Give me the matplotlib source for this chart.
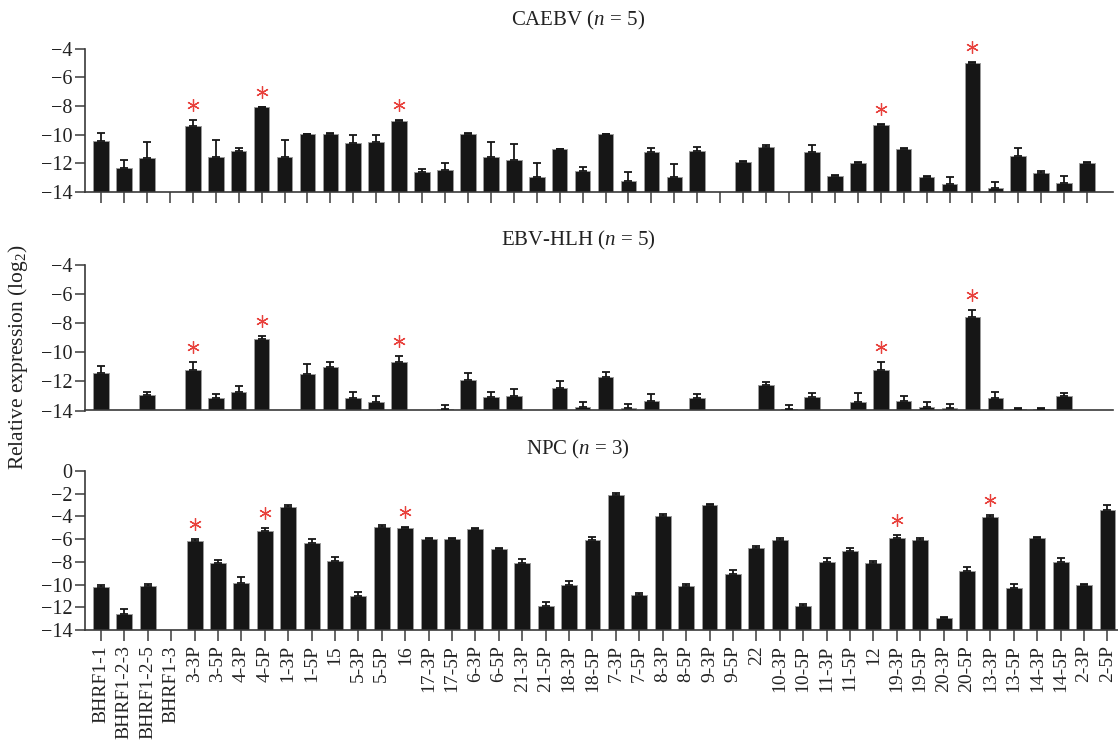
import numpy as np
import matplotlib
matplotlib.use("Agg")
import matplotlib.pyplot as plt
from matplotlib.transforms import ScaledTranslation

plt.rcParams['font.family'] = ['Liberation Serif', 'DejaVu Serif']
plt.rcParams['mathtext.fontset'] = 'custom'
plt.rcParams['mathtext.rm'] = 'Liberation Serif'
plt.rcParams['mathtext.it'] = 'Liberation Serif:italic'

categories = ["BHRF1-1", "BHRF1-2-3", "BHRF1-2-5", "BHRF1-3", "3-3P", "3-5P", "4-3P", "4-5P",
              "1-3P", "1-5P", "15", "5-3P", "5-5P", "16", "17-3P", "17-5P", "6-3P", "6-5P",
              "21-3P", "21-5P", "18-3P", "18-5P", "7-3P", "7-5P", "8-3P", "8-5P", "9-3P", "9-5P",
              "22", "10-3P", "10-5P", "11-3P", "11-5P", "12", "19-3P", "19-5P", "20-3P", "20-5P",
              "13-3P", "13-5P", "14-3P", "14-5P", "2-3P", "2-5P"]

nan = np.nan
caebv = [-10.43, -12.34, -11.62, nan, -9.40, -11.58, -11.11, -8.08, -11.58, -9.99, -9.97,
         -10.61, -10.52, -9.04, -12.59, -12.48, -9.94, -11.58, -11.74, -12.92, -11.02, -12.57,
         -9.99, -13.24, -11.20, -12.97, -11.13, nan, -11.89, -10.84, nan, -11.24, -12.86,
         -11.96, -9.36, -10.97, -12.92, -13.46, -5.01, -13.69, -11.47, -12.70, -13.40, -11.96]
caebv_err = [0.56, 0.56, 1.07, nan, 0.44, 1.19, 0.16, 0.03, 1.23, 0.02, 0.10,
             0.60, 0.47, 0.04, 0.18, 0.48, 0.05, 1.03, 1.06, 0.96, 0.03, 0.34,
             0.03, 0.61, 0.27, 0.94, 0.25, nan, 0.08, 0.11, nan, 0.54, 0.06,
             0.03, 0.11, 0.01, 0.03, 0.49, 0.06, 0.39, 0.52, 0.18, 0.50, 0.02]

ebvhlh = [-11.41, nan, -12.92, nan, -11.25, -13.13, -12.74, -9.06, nan, -11.46, -11.00,
          -13.13, -13.43, -10.64, nan, -13.91, -11.92, -13.08, -13.02, nan, -12.42, -13.73,
          -11.71, -13.84, -13.34, nan, -13.15, nan, nan, -12.28, -13.91, -13.04, nan,
          -13.43, -11.19, -13.34, -13.77, -13.84, -7.57, -13.11, -13.91, -13.91, -12.97, nan]
ebvhlh_err = [0.50, nan, 0.22, nan, 0.55, 0.25, 0.39, 0.21, nan, 0.66, 0.32,
              0.39, 0.46, 0.39, nan, 0.31, 0.51, 0.38, 0.51, nan, 0.48, 0.32,
              0.39, 0.32, 0.46, nan, 0.27, nan, nan, 0.25, 0.28, 0.25, nan,
              0.60, 0.51, 0.37, 0.32, 0.32, 0.50, 0.35, 0.11, 0.05, 0.18, nan]

npc = [-10.21, -12.55, -10.09, nan, -6.14, -8.07, -9.85, -5.25, -3.18, -6.32, -7.92,
       -10.98, -4.93, -5.04, -6.02, -5.99, -5.10, -6.88, -8.13, -11.93, -10.00, -6.05,
       -2.11, -10.95, -3.95, -10.09, -3.03, -9.05, -6.80, -6.08, -11.90, -8.01, -7.00,
       -8.07, -5.93, -6.11, -12.94, -8.84, -4.04, -10.33, -5.91, -8.04, -10.06, -3.41]
npc_err = [0.21, 0.41, 0.18, nan, 0.18, 0.21, 0.50, 0.24, 0.21, 0.36, 0.35,
           0.30, 0.18, 0.14, 0.12, 0.09, 0.12, 0.14, 0.41, 0.36, 0.33, 0.20,
           0.15, 0.24, 0.15, 0.15, 0.12, 0.30, 0.21, 0.20, 0.15, 0.38, 0.26,
           0.15, 0.26, 0.18, 0.12, 0.41, 0.18, 0.36, 0.12, 0.41, 0.12, 0.41]

caebv_sig = ["3-3P", "4-5P", "16", "19-3P", "13-3P"]
ebvhlh_sig = ["3-3P", "4-5P", "16", "19-3P", "13-3P"]
npc_sig = ["3-3P", "4-5P", "16", "19-3P", "13-3P"]

titles = ["CAEBV ($n$ = 5)", "EBV-HLH ($n$ = 5)", "NPC ($n$ = 3)"]
yticks_top = [-4, -6, -8, -10, -12, -14]
yticks_bottom = [0, -2, -4, -6, -8, -10, -12, -14]

W, H = 1118, 741
fig = plt.figure(figsize=(W / 100, H / 100), dpi=100)

def px_axes(x0, x1, y0, y1):
    return fig.add_axes([x0 / W, 1 - y1 / H, (x1 - x0) / W, (y1 - y0) / H])

panels = [
    dict(vals=caebv, err=caebv_err, sig=caebv_sig, box=(85, 1113, 48.5, 192), ty=20,
         ylim=(-14, -4), yt=yticks_top, xlim=(-0.70, 44.13), xt=True, lab=False),
    dict(vals=ebvhlh, err=ebvhlh_err, sig=ebvhlh_sig, box=(85, 1113, 265, 410.5), ty=240,
         ylim=(-14, -4), yt=yticks_top, xlim=(-0.70, 44.13), xt=False, lab=False),
    dict(vals=npc, err=npc_err, sig=npc_sig, box=(85, 1118, 471, 630), ty=449,
         ylim=(-14, 0), yt=yticks_bottom, xlim=(-0.68, 43.45), xt=True, lab=True),
]

x = np.arange(len(categories))
spine_col = '#3a3a3a'
txt_col = '#222222'
for p, title in zip(panels, titles):
    ax = px_axes(*p['box'])
    v = np.array(p['vals'], dtype=float)
    e = np.array(p['err'], dtype=float)
    base = p['ylim'][0]
    ax.bar(x, v - base, bottom=base, width=0.68, color='#161616',
           edgecolor='#9a9a9a', linewidth=0.7, zorder=2)
    ax.errorbar(x, v, yerr=[np.zeros_like(e), e], fmt='none', ecolor='#161616',
                elinewidth=1.3, capsize=3.2, capthick=1.3, zorder=3)
    star_tr = ax.transData + ScaledTranslation(0, 15 / 100, fig.dpi_scale_trans)
    for name in p['sig']:
        i = categories.index(name)
        ax.plot([i], [v[i] + e[i]], marker=(6, 2, 0), markersize=9, mew=0.9,
                color='#e8413c', clip_on=False, zorder=4, transform=star_tr)
    ax.set_xlim(*p['xlim'])
    ax.set_ylim(*p['ylim'])
    ax.set_yticks(p['yt'])
    ax.tick_params(axis='y', direction='out', length=7.2, width=1.1, colors=spine_col,
                   labelcolor=txt_col, labelsize=14.5, pad=2)
    if p['xt']:
        ax.set_xticks(x)
        if p['lab']:
            ax.set_xticklabels(categories, rotation=90, fontsize=14, color=txt_col)
        else:
            ax.set_xticklabels([])
        ax.tick_params(axis='x', direction='out', length=8, width=1.1, colors=spine_col,
                       labelcolor=txt_col, pad=3)
    else:
        ax.set_xticks([])
    for s in ['top', 'right']:
        ax.spines[s].set_visible(False)
    for s in ['left', 'bottom']:
        ax.spines[s].set_color(spine_col)
        ax.spines[s].set_linewidth(1.2)
    ax.patch.set_alpha(0)
    fig.text(578 / W, 1 - p['ty'] / H, title, ha='center', va='center',
             fontsize=15, color=txt_col)

fig.text(18 / W, 1 - 357 / H, "Relative expression (log$_2$)", rotation=90,
         ha='center', va='center', fontsize=15.5, color=txt_col)

fig.savefig('out.png', dpi=100)
